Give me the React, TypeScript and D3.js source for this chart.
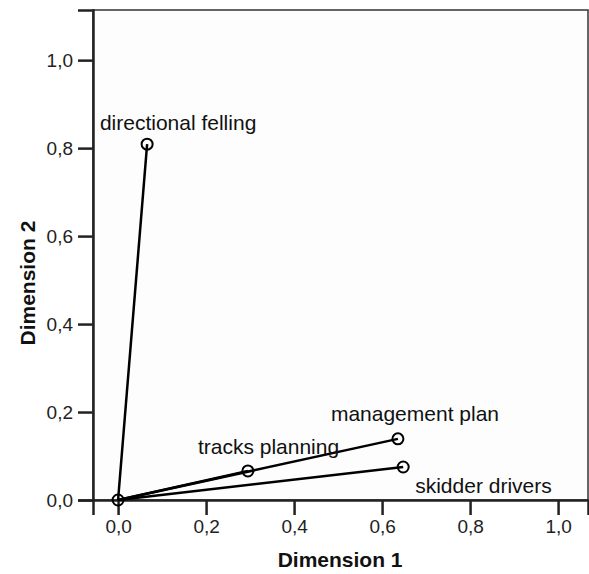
import React, { useEffect, useRef } from 'react';
import * as d3 from 'd3';

// object points (loadings)
const names = ['directional felling', 'tracks planning', 'management plan', 'skidder drivers'];
const dim1 = [0.066, 0.295, 0.636, 0.648];
const dim2 = [0.809, 0.066, 0.139, 0.075];

const tickValues = [0, 0.2, 0.4, 0.6, 0.8, 1.0];
const tickLabels = ['0,0', '0,2', '0,4', '0,6', '0,8', '1,0'];

// label placement relative to the point (dx, dy, anchor)
const labelPos: [number, number, string][] = [
  [31, -14, 'middle'],
  [-50, -17, 'start'],
  [-67, -18, 'start'],
  [12, 26, 'start'],
];

const W = 589;
const H = 574;
const font = 'Liberation Sans, Arial, Helvetica, sans-serif';

export default function App() {
  const ref = useRef<SVGSVGElement>(null);

  useEffect(() => {
    const svg = d3.select(ref.current);
    svg.selectAll('*').remove();

    const left = 93, right = 588, top = 10, bottom = 500;
    const x = d3.scaleLinear().domain([-0.057, 1.068]).range([left, right]);
    const y = d3.scaleLinear().domain([0, 1.114]).range([bottom, top]);

    svg.append('rect').attr('width', W).attr('height', H).attr('fill', '#fff');

    // frame
    svg.append('rect')
      .attr('x', left).attr('y', top)
      .attr('width', right - left).attr('height', bottom - top)
      .attr('fill', '#fdfdfd')
      .attr('stroke', '#333').attr('stroke-width', 1.5);

    const yAxis = d3.axisLeft(y)
      .tickValues(tickValues)
      .tickFormat((d, i) => tickLabels[i])
      .tickSize(15).tickPadding(5);
    const gy = svg.append('g').attr('transform', `translate(${left},0)`).call(yAxis);
    gy.select('.domain').attr('stroke', '#222').attr('stroke-width', 2.5);
    gy.selectAll('.tick line').attr('stroke', '#222').attr('stroke-width', 2.5);
    gy.selectAll('.tick text').attr('font-family', font).attr('font-size', 19).attr('fill', '#222');

    const xAxis = d3.axisBottom(x)
      .tickValues(tickValues)
      .tickFormat((d, i) => tickLabels[i])
      .tickSize(15).tickPadding(5);
    const gx = svg.append('g').attr('transform', `translate(0,${bottom})`).call(xAxis);
    gx.select('.domain').attr('stroke', '#222').attr('stroke-width', 2.5);
    gx.selectAll('.tick line').attr('stroke', '#222').attr('stroke-width', 2.5);
    gx.selectAll('.tick text').attr('font-family', font).attr('font-size', 19).attr('fill', '#222');

    // axis titles
    svg.append('text')
      .attr('x', (x(0) + x(1)) / 2 + 2).attr('y', 567)
      .attr('text-anchor', 'middle')
      .attr('font-family', font).attr('font-size', 21).attr('font-weight', 'bold')
      .attr('fill', '#111')
      .text('Dimension 1');
    svg.append('text')
      .attr('transform', `translate(35,${(y(0) + y(1)) / 2 + 3}) rotate(-90)`)
      .attr('text-anchor', 'middle')
      .attr('font-family', font).attr('font-size', 21).attr('font-weight', 'bold')
      .attr('fill', '#111')
      .text('Dimension 2');

    const pts = names.map((n, i) => ({ name: n, d1: dim1[i], d2: dim2[i], i }));

    // vectors from origin
    svg.selectAll('.vec')
      .data(pts)
      .enter()
      .append('line')
      .attr('x1', x(0)).attr('y1', y(0))
      .attr('x2', d => x(d.d1)).attr('y2', d => y(d.d2))
      .attr('stroke', '#000').attr('stroke-width', 2.5);

    // labels
    svg.selectAll('.lbl')
      .data(pts)
      .enter()
      .append('text')
      .attr('x', d => x(d.d1) + labelPos[d.i][0])
      .attr('y', d => y(d.d2) + labelPos[d.i][1])
      .attr('text-anchor', d => labelPos[d.i][2])
      .attr('font-family', font).attr('font-size', 21)
      .attr('fill', '#111')
      .text(d => d.name);

    // markers
    svg.selectAll('.pt')
      .data(pts)
      .enter()
      .append('circle')
      .attr('cx', d => x(d.d1)).attr('cy', d => y(d.d2))
      .attr('r', 5.5)
      .attr('fill', 'none')
      .attr('stroke', '#000').attr('stroke-width', 2);
    svg.append('circle')
      .attr('cx', x(0)).attr('cy', y(0)).attr('r', 5.5)
      .attr('fill', 'none').attr('stroke', '#000').attr('stroke-width', 2);
  }, []);

  return (
    <svg ref={ref} width={W} height={H}
      style={{ position: 'absolute', left: 0, top: 0 }} />
  );
}
